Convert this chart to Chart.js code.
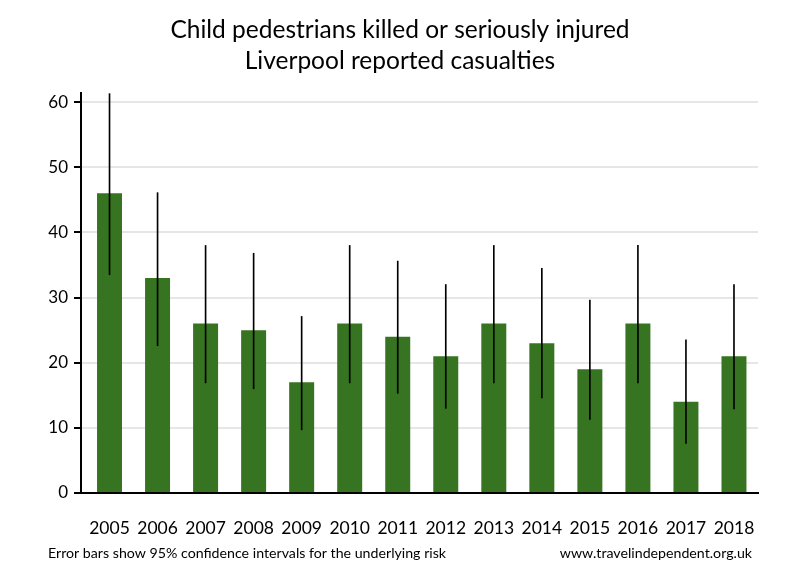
<!DOCTYPE html>
<html lang="en">
<head>
  <meta charset="UTF-8">
  <title>Child pedestrians KSI - Liverpool</title>
  <script src="https://cdn.jsdelivr.net/npm/chart.js"></script>
  <style>
    body { margin: 0; background: #fff; }
    #wrap { width: 800px; height: 580px; }
  </style>
</head>
<body>
  <div id="wrap"><canvas id="ksiChart" width="800" height="580"></canvas></div>

  <script>
    const years = ["2005", "2006", "2007", "2008", "2009", "2010", "2011", "2012", "2013", "2014", "2015", "2016", "2017", "2018"];
    const casualties = [46, 33, 26, 25, 17, 26, 24, 21, 26, 23, 19, 26, 14, 21];
    const lowerCI = [33.5, 22.6, 16.9, 16.0, 9.7, 16.9, 15.3, 13.0, 16.9, 14.6, 11.3, 16.9, 7.6, 12.9];
    const upperCI = [61.3, 46.1, 38.0, 36.8, 27.1, 38.0, 35.6, 32.0, 38.0, 34.5, 29.6, 38.0, 23.5, 32.0];
    const yTicks = [0, 10, 20, 30, 40, 50, 60];

    const titleLines = ["Child pedestrians killed or seriously injured", "Liverpool reported casualties"];
    const noteLeft = "Error bars show 95% confidence intervals for the underlying risk";
    const noteRight = "www.travelindependent.org.uk";

    const FONT = "Lato, 'Open Sans', sans-serif";

    // title and footnotes drawn straight onto the canvas
    const textPlugin = {
      id: 'texts',
      afterDraw(chart) {
        const c = chart.ctx;
        c.save();
        c.fillStyle = '#000';
        c.textAlign = 'center';
        c.textBaseline = 'middle';
        c.font = "24.5px " + FONT;
        c.fillText(titleLines[0], 400, 30);
        c.fillText(titleLines[1], 400, 61);
        c.font = "14.2px " + FONT;
        c.textAlign = 'left';
        c.fillText(noteLeft, 48, 553);
        c.textAlign = 'right';
        c.fillText(noteRight, 752, 553);
        c.restore();
      }
    };

    // the categories start a few pixels right of the y axis line in the original
    const insetPlugin = {
      id: 'inset',
      afterLayout(chart) {
        const x = chart.scales.x;
        x._startPixel = x.left + 4.5;
        x._endPixel = x.right;
        x._length = x._endPixel - x._startPixel;
      }
    };

    new Chart(document.getElementById('ksiChart'), {
      type: 'bar',
      data: {
        labels: years,
        datasets: [
          {
            label: 'CI',
            data: years.map((y, i) => [lowerCI[i], upperCI[i]]),
            backgroundColor: '#000',
            barThickness: 1,
            grouped: false,
            order: 0
          },
          {
            label: 'Casualties',
            data: casualties,
            backgroundColor: '#367421',
            barPercentage: 0.52,
            categoryPercentage: 1,
            grouped: false,
            order: 1
          }
        ]
      },
      options: {
        responsive: false,
        animation: false,
        layout: { padding: { top: 93, right: 42, bottom: 40, left: 0 } },
        plugins: {
          legend: { display: false },
          tooltip: { enabled: false }
        },
        scales: {
          x: {
            grid: { display: false },
            border: { color: '#000', width: 2 },
            ticks: { color: '#000', font: { family: FONT, size: 17.5 }, padding: 17, maxRotation: 0 },
            afterFit(scale) { scale.height = 47; }
          },
          y: {
            min: 0,
            max: 61.4,
            afterBuildTicks(scale) { scale.ticks = yTicks.map(v => ({ value: v })); },
            grid: { color: ctx => ctx.tick && ctx.tick.value === 0 ? 'rgba(0,0,0,0)' : '#e6e6e6', lineWidth: 2, tickColor: '#000', tickLength: 7 },
            border: { color: '#000', width: 2 },
            ticks: { color: '#000', font: { family: FONT, size: 17 }, padding: 6 },
            afterFit(scale) { scale.width = 81; }
          }
        }
      },
      plugins: [textPlugin, insetPlugin]
    });
  </script>
</body>
</html>
